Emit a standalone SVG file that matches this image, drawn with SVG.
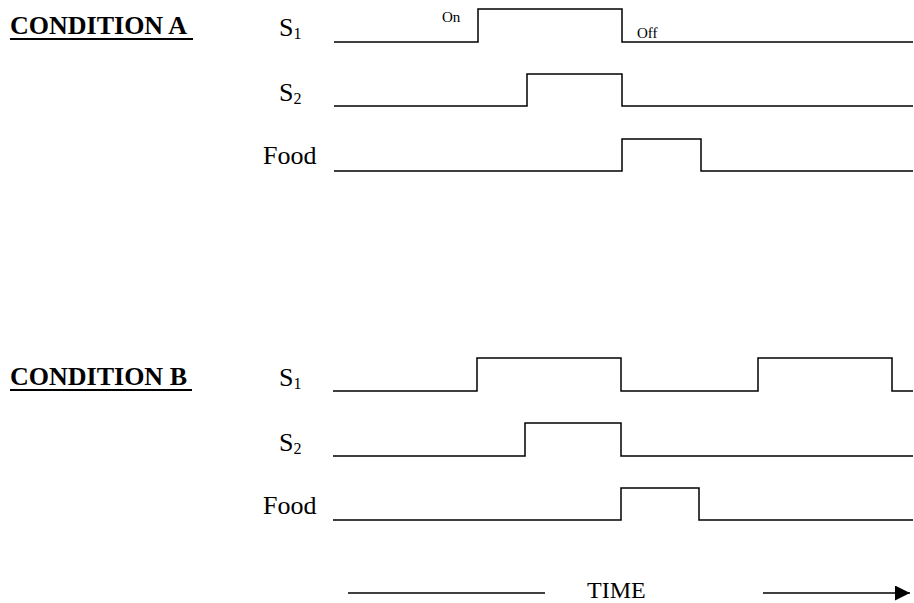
<svg xmlns="http://www.w3.org/2000/svg" width="914" height="603" viewBox="0 0 914 603">
<style>
text{font-family:"Liberation Serif","Times New Roman",serif;fill:#000}
.cond{font-size:26px;font-weight:bold}
.lab{font-size:26px}
.sub{font-size:16px}
.small{font-size:15px}
.sig{fill:none;stroke:#000;stroke-width:1.5}
.ul{stroke:#000;stroke-width:2}
</style>
<defs>
<marker id="arr" viewBox="0 0 10 10" refX="10" refY="5" markerWidth="15" markerHeight="15" markerUnits="userSpaceOnUse" orient="auto">
<path d="M0,0 L10,5 L0,10 z" fill="#000"/>
</marker>
</defs>
<rect width="914" height="603" fill="#fff"/>

<g id="conditionA">
<text class="cond" x="10" y="34">CONDITION A</text>
<line class="ul" x1="10" y1="39" x2="193" y2="39"/>
</g>
<g id="A-S1">
<text class="lab" x="279" y="36">S<tspan class="sub" dy="3">1</tspan></text>
<text class="small" x="442" y="22">On</text>
<text class="small" x="637" y="38">Off</text>
<polyline class="sig" points="334,42 478,42 478,9 622,9 622,42 913,42"/>
</g>
<g id="A-S2">
<text class="lab" x="279" y="101">S<tspan class="sub" dy="3">2</tspan></text>
<polyline class="sig" points="334,106 527,106 527,74 622,74 622,106 913,106"/>
</g>
<g id="A-Food">
<text class="lab" x="263" y="164">Food</text>
<polyline class="sig" points="334,171 622,171 622,139 701,139 701,171 913,171"/>
</g>

<g id="conditionB">
<text class="cond" x="10" y="385">CONDITION B</text>
<line class="ul" x1="10" y1="390" x2="192" y2="390"/>
</g>
<g id="B-S1">
<text class="lab" x="279" y="386">S<tspan class="sub" dy="3">1</tspan></text>
<polyline class="sig" points="333,391 477,391 477,358 621,358 621,391 758,391 758,358 892,358 892,391 913,391"/>
</g>
<g id="B-S2">
<text class="lab" x="279" y="451">S<tspan class="sub" dy="3">2</tspan></text>
<polyline class="sig" points="333,456 525,456 525,423 621,423 621,456 913,456"/>
</g>
<g id="B-Food">
<text class="lab" x="263" y="514">Food</text>
<polyline class="sig" points="333,520 621,520 621,488 699,488 699,520 913,520"/>
</g>

<g id="connectors">
<line class="sig" x1="348" y1="593" x2="545" y2="593"/>
<line class="sig" x1="763" y1="593" x2="910" y2="593" marker-end="url(#arr)"/>
</g>
<g id="time">
<text class="lab" x="587" y="598" style="font-size:24px">TIME</text>
</g>
</svg>
